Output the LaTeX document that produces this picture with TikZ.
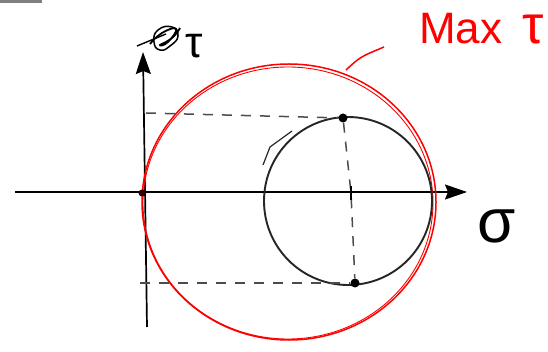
\documentclass[tikz,border=0pt]{standalone}
\usepackage{fontspec}
\setmainfont{Liberation Sans}
\usetikzlibrary{arrows.meta}
\begin{document}
\begin{tikzpicture}[x=1pt,y=-1pt,
  axis/.style={line width=1.7pt,-{Stealth[length=22pt,width=15pt,inset=3pt]}},
  dashline/.style={line width=1.5pt, black!70, dash pattern=on 10pt off 9pt},
  mohr/.style={line width=1.9pt, black!85},
  maxcircle/.style={red, line width=1.5pt},
  dot/.style={circle, fill=black, inner sep=0pt, minimum size=9pt},
  lbl/.style={inner sep=0pt}]
\useasboundingbox (0,0) rectangle (548,352);
\fill[white] (0,0) rectangle (548,352);
\draw[gray, line width=3pt] (0,1.5) -- (42,1.5);

% axes
\coordinate (xl) at (15,192);
\coordinate (xr) at (467,192);
\coordinate (yb) at (147,327);
\coordinate (yt) at (143,52);
\draw[axis] (xl) -- (xr);
\draw[axis] (yb) -- (yt);

% labels
\node[lbl] (tau) at (194,46) {\fontsize{44}{44}\selectfont τ};
\node[lbl] (sigma) at (497,226) {\fontsize{62}{62}\selectfont σ};
\node[lbl, anchor=base west, red] (maxtau) at (419,44)
  {\fontsize{44}{44}\selectfont Max\hspace{20pt}{\fontsize{54}{54}\selectfont τ}};

% scribble (crossed-out symbol)
\draw[line width=1.4pt] (137,46) -- (166,34);
\draw[line width=1.5pt] plot[smooth cycle, tension=0.9] coordinates
  {(158,30) (172,27) (178,36) (170,46) (160,50) (154,42)};
\draw[line width=1.8pt] plot[smooth, tension=0.9] coordinates
  {(150,44) (162,33) (176,29) (168,42) (160,45) (172,38) (180,28)};

% circles
\draw[maxcircle] (289,202) ellipse [x radius=147, y radius=138];
\draw[maxcircle, line width=0.9pt] (288,203) ellipse [x radius=145, y radius=136];
\coordinate (ptr) at (346,70);
\draw[maxcircle] (ptr) .. controls (360,57) .. (384,47);
\draw[mohr] (348,201) circle [radius=84];
\draw[mohr, line width=1.2pt] (263,165) -- (270,147) -- (292,131);

% points
\node[dot] (top) at (343,118) {};
\node[dot] (bot) at (355,283) {};
\node[dot, fill=black!80!red, minimum size=7pt] (orig) at (142,193) {};
\coordinate (cen) at (351,193);
\coordinate (ttop) at (146,113);
\coordinate (tbot) at (140,283);

% dashed projections
\draw[dashline] (ttop) -- (top);
\draw[dashline] (tbot) -- (bot);
\draw[dashline] (top) -- (cen) -- (bot);
\draw[line width=2.8pt] (351,186) -- (351,200);
\end{tikzpicture}
\end{document}
